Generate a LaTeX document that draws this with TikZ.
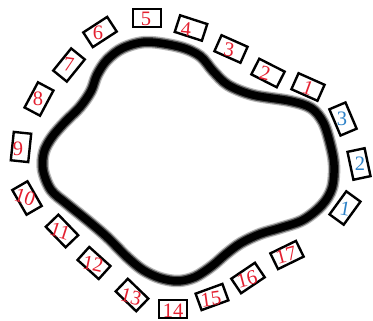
\documentclass[tikz,border=0pt]{standalone}
\usepackage{fontspec}
\setmainfont{Liberation Serif}
\definecolor{numred}{RGB}{228,32,48}
\definecolor{numblue}{RGB}{45,130,200}
\tikzset{
  box/.style={draw=black, line width=2.4pt, minimum width=28.5pt, minimum height=17.5pt, inner sep=0pt, fill=white},
  pbox/.style={box, minimum width=17.5pt, minimum height=28.5pt},
  rnum/.style={text=numred, font=\fontsize{20.5}{20.5}\selectfont, inner sep=0pt},
  bnum/.style={text=numblue, font=\fontsize{20.5}{20.5}\selectfont, inner sep=0pt},
}
\begin{document}
\begin{tikzpicture}[x=1pt,y=-1pt]
\useasboundingbox[fill=white] (0,0) rectangle (373,321);
% thick closed track
\def\track{plot[smooth cycle, tension=0.55] coordinates {
 (147,42) (180,47) (200,56) (213,71) (228,85) (253,95) (290,101) (311,108)
 (323,122) (330,143) (334,165) (332,188) (322,205) (303,220) (280,228)
 (260,234) (241,243) (226,254) (212,266) (195,277) (178,281) (160,278)
 (143,270) (127,257) (107,237) (87,220) (67,204) (51,190) (43,170)
 (44,152) (52,137) (65,122) (80,107) (91,91) (97,75) (107,60) (123,48)}}
\draw[line width=12.5pt, black!28, line join=round] \track;
\draw[line width=10pt, black!70, line join=round] \track;
\draw[line width=7.5pt, black, line join=round] \track;
% boxes
\node[box, rotate=0]   (b5)  at (147,18)  {};
\node[box, rotate=-18] (b4)  at (191,28)  {};
\node[box, rotate=-24] (b3)  at (231,49)  {};
\node[box, rotate=-27] (b2)  at (268,73)  {};
\node[box, rotate=-24] (b1)  at (308,87)  {};
\node[pbox, rotate=23] (c3)  at (343,119) {};
\node[pbox, rotate=12] (c2)  at (359,164) {};
\node[pbox, rotate=-36] (c1) at (345,208) {};
\node[box, rotate=26]  (b17) at (287,255) {};
\node[box, rotate=34]  (b16) at (248,278) {};
\node[box, rotate=20]  (b15) at (212,297) {};
\node[box, rotate=0]   (b14) at (173,309) {};
\node[box, rotate=-44] (b13) at (132,295) {};
\node[box, rotate=-42] (b12) at (94,263)  {};
\node[box, rotate=-46] (b11) at (62,231)  {};
\node[box, rotate=-60] (b10) at (27,198)  {};
\node[pbox, rotate=-6] (b9)  at (21,147)  {};
\node[pbox, rotate=-28] (b8) at (39,99)   {};
\node[pbox, rotate=-39] (b7) at (69,65)   {};
\node[box, rotate=33]  (b6)  at (100,32)  {};
% numbers
\node[rnum] (t5)  at ([shift={(-1,1)}]b5.center)  {5};
\node[rnum, rotate=-5] (t4)  at ([shift={(-5,1)}]b4.center)  {4};
\node[rnum, rotate=-10] (t3)  at ([shift={(-2,1)}]b3.center)  {3};
\node[rnum, rotate=-15] (t2)  at ([shift={(-3,0)}]b2.center)  {2};
\node[rnum, rotate=-20] (t1)  at ([shift={(0,1)}]b1.center)  {1};
\node[bnum] (u3) at ([shift={(-1,0)}]c3.center) {3};
\node[bnum] (u2) at ([shift={(1,0)}]c2.center) {2};
\node[bnum, rotate=-10] (u1) at ([shift={(0,1)}]c1.center) {1};
\node[rnum, rotate=15] (t17) at ([shift={(-1,0)}]b17.center) {17};
\node[rnum, rotate=15] (t16) at ([shift={(-1,1)}]b16.center) {16};
\node[rnum, rotate=8] (t15) at ([shift={(-1,2)}]b15.center) {15};
\node[rnum] (t14) at ([shift={(0,2)}]b14.center) {14};
\node[rnum, rotate=-15] (t13) at ([shift={(-1,2)}]b13.center) {13};
\node[rnum, rotate=-12] (t12) at ([shift={(-1,1)}]b12.center) {12};
\node[rnum, rotate=-18] (t11) at ([shift={(-2,0)}]b11.center) {11};
\node[rnum, rotate=-18] (t10) at ([shift={(-2,-1)}]b10.center) {10};
\node[rnum] (t9)  at ([shift={(-3,2)}]b9.center)  {9};
\node[rnum] (t8)  at ([shift={(-1,0)}]b8.center)  {8};
\node[rnum, rotate=-8] (t7)  at ([shift={(0,0)}]b7.center)  {7};
\node[rnum] (t6)  at ([shift={(-2,1)}]b6.center)  {6};
\end{tikzpicture}
\end{document}
